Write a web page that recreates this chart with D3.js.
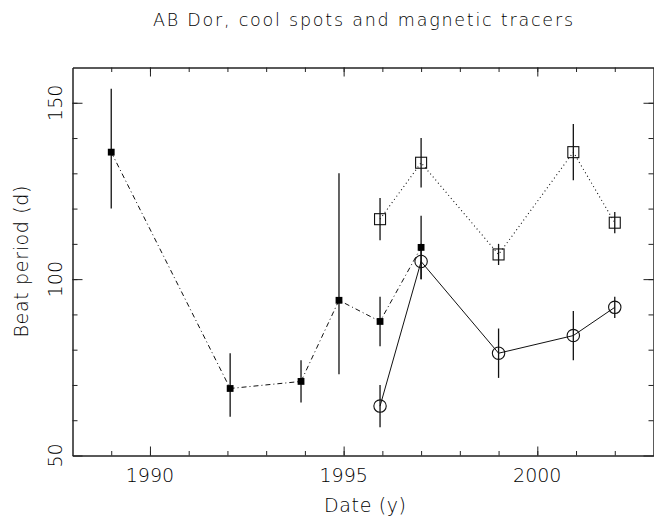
<!DOCTYPE html>
<html>
<head>
<meta charset="utf-8">
<script src="https://cdn.jsdelivr.net/npm/d3@7"></script>
<style>
  body { margin: 0; background: #fff; }
  text { font-family: "DejaVu Sans", sans-serif; font-weight: 300; fill: #000; }
</style>
</head>
<body>
<div id="chart"></div>
<script>
// filled squares: cool spots (dash-dot)
const spotYears = [1989.0, 1992.07, 1993.9, 1994.88, 1995.94, 1997.0];
const spotPeriod = [136, 69, 71, 94, 88, 109];
const spotLow = [120, 61, 65, 73, 81, 100];
const spotHigh = [154, 79, 77, 130, 95, 118];

// open squares (dotted)
const sqYears = [1995.94, 1997.0, 1999.0, 2000.93, 2002.0];
const sqPeriod = [117, 133, 107, 136, 116];
const sqLow = [111, 126, 104, 128, 113];
const sqHigh = [123, 140, 110, 144, 119];

// open circles (solid)
const circYears = [1995.94, 1997.0, 1999.0, 2000.93, 2002.0];
const circPeriod = [64, 105, 79, 84, 92];
const circLow = [58, 100, 72, 77, 89];
const circHigh = [70, 110, 86, 91, 95];

const xMajor = [1990, 1995, 2000];
const xMinor = d3.range(1989, 2003);
const yMajor = [50, 100, 150];
const yMinor = d3.range(60, 160, 10);

const titleText = "AB Dor, cool spots and magnetic tracers";
const xLabel = "Date (y)";
const yLabel = "Beat period (d)";

const margin = { top: 67.5, right: 0.5, bottom: 71.5, left: 72.5 };
const W = 654, H = 527;
const width = W - margin.left - margin.right;
const height = H - margin.top - margin.bottom;

const root = d3.select("#chart").append("svg").attr("width", W).attr("height", H);
const svg = root.append("g").attr("transform", `translate(${margin.left},${margin.top})`);

const x = d3.scaleLinear().domain([1988, 2003]).range([0, width]);
const y = d3.scaleLinear().domain([50, 160]).range([height, 0]);

function zip(xs, vs, lo, hi) {
  return xs.map((d, i) => ({ x: d, v: vs[i], lo: lo[i], hi: hi[i] }));
}
const spots = zip(spotYears, spotPeriod, spotLow, spotHigh);
const squares = zip(sqYears, sqPeriod, sqLow, sqHigh);
const circles = zip(circYears, circPeriod, circLow, circHigh);

// axes: ticks drawn inward on all four sides
function styleAxis(g) {
  g.selectAll("path, line").attr("stroke", "#222").attr("stroke-width", 1);
  g.selectAll("text").remove();
}
svg.append("g").attr("transform", `translate(0,${height})`)
  .call(d3.axisBottom(x).tickValues(xMinor).tickSize(-4.5).tickSizeOuter(0)).call(styleAxis);
svg.append("g").attr("transform", `translate(0,${height})`)
  .call(d3.axisBottom(x).tickValues(xMajor).tickSize(-9).tickSizeOuter(0)).call(styleAxis);
svg.append("g")
  .call(d3.axisTop(x).tickValues(xMinor).tickSize(-4.5).tickSizeOuter(0)).call(styleAxis);
svg.append("g")
  .call(d3.axisTop(x).tickValues(xMajor).tickSize(-9).tickSizeOuter(0)).call(styleAxis);
svg.append("g")
  .call(d3.axisLeft(y).tickValues(yMinor).tickSize(-5).tickSizeOuter(0)).call(styleAxis);
svg.append("g")
  .call(d3.axisLeft(y).tickValues(yMajor).tickSize(-10).tickSizeOuter(0)).call(styleAxis);
svg.append("g").attr("transform", `translate(${width},0)`)
  .call(d3.axisRight(y).tickValues(yMinor).tickSize(-5).tickSizeOuter(0)).call(styleAxis);
svg.append("g").attr("transform", `translate(${width},0)`)
  .call(d3.axisRight(y).tickValues(yMajor).tickSize(-10).tickSizeOuter(0)).call(styleAxis);

// tick labels
svg.selectAll(".xlab")
  .data(xMajor)
  .enter()
  .append("text")
  .attr("class", "xlab")
  .attr("x", (d) => x(d))
  .attr("y", height + 26)
  .attr("text-anchor", "middle")
  .style("font-size", "19px")
  .text((d) => d);

svg.selectAll(".ylab")
  .data(yMajor)
  .enter()
  .append("text")
  .attr("class", "ylab")
  .attr("transform", (d) => `translate(-10.5,${y(d)}) rotate(-90)`)
  .attr("text-anchor", "middle")
  .style("font-size", "19px")
  .text((d) => d);

// titles
root.append("text")
  .attr("x", margin.left + width / 2)
  .attr("y", 26)
  .attr("text-anchor", "middle")
  .attr("textLength", 420)
  .attr("lengthAdjust", "spacing")
  .style("font-size", "17.5px")
  .text(titleText);

root.append("text")
  .attr("x", margin.left + width / 2 + 2)
  .attr("y", 512)
  .attr("text-anchor", "middle")
  .attr("textLength", 82)
  .attr("lengthAdjust", "spacing")
  .style("font-size", "19px")
  .text(xLabel);

root.append("text")
  .attr("transform", `translate(28,${margin.top + height / 2}) rotate(-90)`)
  .attr("text-anchor", "middle")
  .attr("textLength", 152)
  .attr("lengthAdjust", "spacing")
  .style("font-size", "19px")
  .text(yLabel);

// connecting lines
const line = d3.line().x((d) => x(d.x)).y((d) => y(d.v));
svg.append("path").datum(spots).attr("d", line)
  .attr("fill", "none").attr("stroke", "#111").attr("stroke-width", 1)
  .attr("stroke-dasharray", "5,3,1,3");
svg.append("path").datum(squares).attr("d", line)
  .attr("fill", "none").attr("stroke", "#111").attr("stroke-width", 1.1)
  .attr("stroke-dasharray", "1,3");
svg.append("path").datum(circles).attr("d", line)
  .attr("fill", "none").attr("stroke", "#111").attr("stroke-width", 1);

// error bars
[spots, squares, circles].forEach((series) => {
  svg.selectAll(null)
    .data(series)
    .enter()
    .append("line")
    .attr("x1", (d) => x(d.x))
    .attr("x2", (d) => x(d.x))
    .attr("y1", (d) => y(d.lo))
    .attr("y2", (d) => y(d.hi))
    .attr("stroke", "#111")
    .attr("stroke-width", 1.3);
});

// markers
svg.selectAll(".spot")
  .data(spots)
  .enter()
  .append("rect")
  .attr("class", "spot")
  .attr("x", (d) => x(d.x) - 3.4)
  .attr("y", (d) => y(d.v) - 3.4)
  .attr("width", 6.8)
  .attr("height", 6.8)
  .attr("fill", "#000");

svg.selectAll(".sq")
  .data(squares)
  .enter()
  .append("rect")
  .attr("class", "sq")
  .attr("x", (d) => x(d.x) - 5.5)
  .attr("y", (d) => y(d.v) - 5.5)
  .attr("width", 11)
  .attr("height", 11)
  .attr("fill", "none")
  .attr("stroke", "#111")
  .attr("stroke-width", 1.1);

svg.selectAll(".circ")
  .data(circles)
  .enter()
  .append("circle")
  .attr("class", "circ")
  .attr("cx", (d) => x(d.x))
  .attr("cy", (d) => y(d.v))
  .attr("r", 6.2)
  .attr("fill", "none")
  .attr("stroke", "#111")
  .attr("stroke-width", 1.1);
</script>
</body>
</html>
